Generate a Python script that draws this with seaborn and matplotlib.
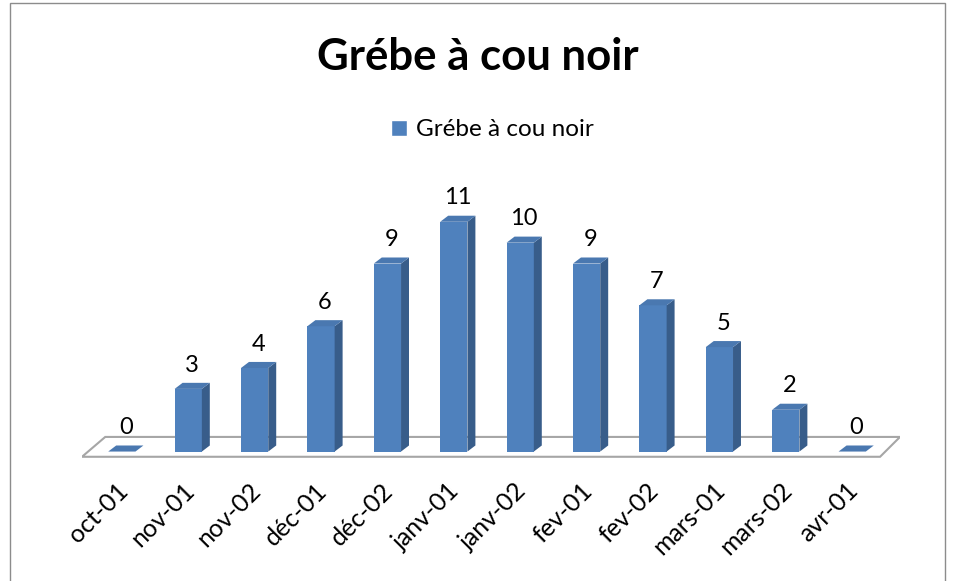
import matplotlib
matplotlib.use("Agg")
import matplotlib.pyplot as plt
import matplotlib.transforms as mtrans
import seaborn as sns
import pandas as pd
from matplotlib.patches import Polygon, Rectangle

# données
months = ["oct-01", "nov-01", "nov-02", "déc-01", "déc-02", "janv-01",
          "janv-02", "fev-01", "fev-02", "mars-01", "mars-02", "avr-01"]
counts = [0, 3, 4, 6, 9, 11, 10, 9, 7, 5, 2, 0]
series_name = "Grébe à cou noir"

front = "#4F81BD"
side = "#385D8A"
top = "#4A78B0"

sns.set_style("white")
plt.rcParams["font.family"] = ["Lato", "DejaVu Sans"]
plt.rcParams["text.color"] = "black"
plt.rcParams["xtick.color"] = "black"

fig = plt.figure(figsize=(9.56, 5.81), dpi=100)
ax = fig.add_axes([82 / 956, 1 - 462 / 581, (900 - 82) / 956, (462 - 180) / 581])

df = pd.DataFrame({"mois": months, "n": counts})
sns.barplot(data=df, x="mois", y="n", color=front, saturation=1, width=0.41,
            linewidth=0, ax=ax, zorder=3)

ax.set_xlim(-0.6, len(months) - 1 + 0.72)
ax.set_ylim(-0.5, 13.0)

# pseudo 3D: profondeur des barres
dx, dy = 0.12, 0.29

# plancher
n = len(months)
floor = Polygon([(-0.6, -0.25), (n - 1 + 0.42, -0.25),
                 (n - 1 + 0.72, 0.7), (-0.25, 0.7)],
                closed=True, facecolor="white", edgecolor="#A6A6A6",
                lw=1.5, zorder=1)
ax.add_patch(floor)

for p, v in zip(ax.patches[:n], counts):
    x0, w, h = p.get_x(), p.get_width(), p.get_height()
    ax.add_patch(Polygon([(x0 + w, 0), (x0 + w + dx, dy), (x0 + w + dx, h + dy), (x0 + w, h)],
                         closed=True, facecolor=side, edgecolor="none", zorder=3))
    ax.add_patch(Polygon([(x0, h), (x0 + dx, h + dy), (x0 + w + dx, h + dy), (x0 + w, h)],
                         closed=True, facecolor=top, edgecolor="none", zorder=3))
    ax.text(x0 + w / 2 + dx / 2, h + dy + 0.35, str(v), ha="center", va="bottom",
            fontsize=17)

ax.set_xlabel("")
ax.set_ylabel("")
ax.set_yticks([])
ax.set_xticks(range(n))
ax.set_xticklabels(months, rotation=45, ha="right", rotation_mode="anchor", fontsize=18)
ax.tick_params(axis="x", length=0, pad=12)
shift = mtrans.ScaledTranslation(-6 / 100, 0, fig.dpi_scale_trans)
for lab in ax.get_xticklabels():
    lab.set_transform(lab.get_transform() + shift)
for s in ax.spines.values():
    s.set_visible(False)
ax.patch.set_alpha(0)

fig.text(0.5, 1 - 57 / 581, series_name, fontsize=31.5, fontweight="bold",
         ha="center", va="center")
fig.legend(handles=[Rectangle((0, 0), 1, 1, facecolor=front)], labels=[series_name],
           loc="center", bbox_to_anchor=(0.515, 1 - 130 / 581), frameon=False,
           fontsize=17.5, handlelength=0.65, handleheight=0.65, handletextpad=0.35)

fig.add_artist(Rectangle((10 / 956, -0.01), (945 - 10) / 956, 1 - 3 / 581 + 0.01,
                         transform=fig.transFigure, fill=False,
                         edgecolor="#8C8C8C", lw=1))

fig.savefig("out.png", dpi=100)
